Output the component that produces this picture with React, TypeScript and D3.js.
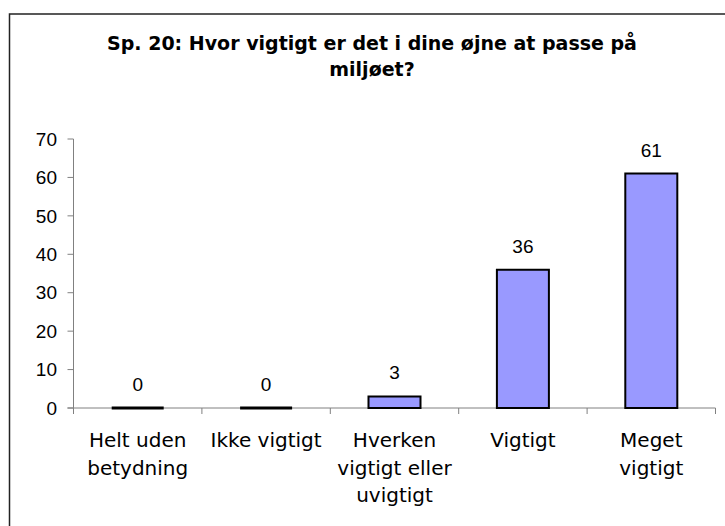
import React from "react";
import * as d3 from "d3";

const categories: string[][] = [
  ["Helt uden", "betydning"],
  ["Ikke vigtigt"],
  ["Hverken", "vigtigt eller", "uvigtigt"],
  ["Vigtigt"],
  ["Meget", "vigtigt"],
];
const values: number[] = [0, 0, 3, 36, 61];
const yTicks: number[] = [0, 10, 20, 30, 40, 50, 60, 70];
const titleLines: string[] = [
  "Sp. 20: Hvor vigtigt er det i dine øjne at passe på",
  "miljøet?",
];

const W = 725;
const H = 526;
const plotLeft = 73.5;
const plotRight = 715.5;
const plotTop = 139;
const plotBottom = 408;

export default function App() {
  const x = d3
    .scaleBand<number>()
    .domain(values.map((_, i) => i))
    .range([plotLeft, plotRight])
    .paddingInner(0)
    .paddingOuter(0);
  const y = d3.scaleLinear().domain([0, 70]).range([plotBottom, plotTop]);
  const bw = x.bandwidth() * 0.405;
  const axisColor = "#808080";
  const tickFont = "'Liberation Sans', Arial, sans-serif";
  const catFont = "'DejaVu Sans', sans-serif";

  return (
    <svg
      width={W}
      height={H}
      style={{ position: "absolute", left: 0, top: 0, background: "#fff" }}
    >
      <rect x={0} y={0} width={W} height={H} fill="#fff" />
      <rect
        x={9.5}
        y={14}
        width={W + 20}
        height={H + 20}
        fill="none"
        stroke="#222"
        strokeWidth={1.5}
      />
      {titleLines.map((t, i) => (
        <text
          key={i}
          x={372}
          y={50 + i * 26}
          textAnchor="middle"
          fontFamily={catFont}
          fontWeight="bold"
          fontSize={19}
          fill="#000"
        >
          {t}
        </text>
      ))}
      {/* y axis */}
      <line
        x1={plotLeft}
        x2={plotLeft}
        y1={plotTop}
        y2={plotBottom}
        stroke={axisColor}
        strokeWidth={1}
      />
      {yTicks.map((t) => (
        <g key={t}>
          <line
            x1={plotLeft - 6}
            x2={plotLeft}
            y1={y(t)}
            y2={y(t)}
            stroke={axisColor}
            strokeWidth={1}
          />
          <text
            x={57}
            y={y(t)}
            dy="0.35em"
            textAnchor="end"
            fontFamily={tickFont}
            fontSize={19}
            fill="#000"
          >
            {t}
          </text>
        </g>
      ))}
      {/* x axis */}
      <line
        x1={plotLeft - 6}
        x2={plotRight}
        y1={plotBottom}
        y2={plotBottom}
        stroke={axisColor}
        strokeWidth={1}
      />
      {values.map((_, i) => (
        <line
          key={"t" + i}
          x1={x(i)!}
          x2={x(i)!}
          y1={plotBottom}
          y2={plotBottom + 6}
          stroke={axisColor}
          strokeWidth={1}
        />
      ))}
      <line
        x1={plotRight}
        x2={plotRight}
        y1={plotBottom}
        y2={plotBottom + 6}
        stroke={axisColor}
        strokeWidth={1}
      />
      {/* bars */}
      {values.map((v, i) => {
        const cx = x(i)! + x.bandwidth() / 2;
        const x0 = cx - bw / 2;
        const x1 = cx + bw / 2;
        const yt = y(v);
        const p = d3.path();
        p.moveTo(x0, plotBottom);
        p.lineTo(x0, yt);
        p.lineTo(x1, yt);
        p.lineTo(x1, plotBottom);
        p.closePath();
        return (
          <g key={"b" + i}>
            <path
              d={p.toString()}
              fill="#9999FF"
              stroke="#000"
              strokeWidth={v === 0 ? 3 : 2}
            />
            <text
              x={cx}
              y={yt - 17}
              textAnchor="middle"
              fontFamily={tickFont}
              fontSize={19}
              fill="#000"
            >
              {v}
            </text>
          </g>
        );
      })}
      {/* category labels */}
      {categories.map((lines, i) => {
        const cx = x(i)! + x.bandwidth() / 2;
        return (
          <text
            key={"c" + i}
            textAnchor="middle"
            fontFamily={catFont}
            fontSize={20}
            fill="#000"
          >
            {lines.map((l, j) => (
              <tspan key={j} x={cx} y={447 + j * 27.5}>
                {l}
              </tspan>
            ))}
          </text>
        );
      })}
    </svg>
  );
}
